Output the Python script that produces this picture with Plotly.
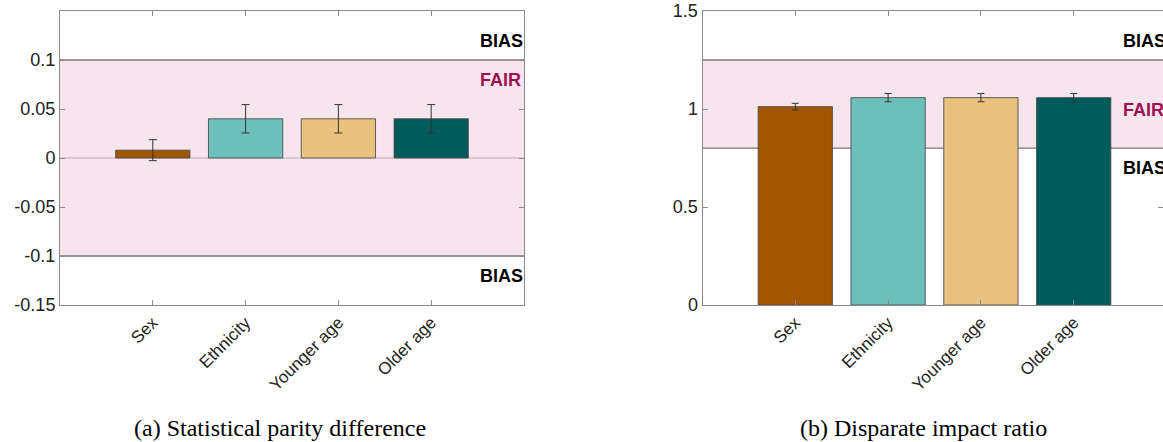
import plotly.graph_objects as go

categories = ["Sex", "Ethnicity", "Younger age", "Older age"]
colors = ["#a35500", "#6cc0bc", "#e8c27e", "#005c5c"]

spd_values = [0.008, 0.040, 0.040, 0.040]
spd_errors = [0.0107, 0.0145, 0.0145, 0.0145]
spd_ticks = [-0.15, -0.1, -0.05, 0, 0.05, 0.1]
spd_ticktext = ["-0.15", "-0.1", "-0.05", "0", "0.05", "0.1"]
spd_fair = [-0.1, 0.1]

dir_values = [1.012, 1.058, 1.058, 1.058]
dir_errors = [0.017, 0.021, 0.021, 0.021]
dir_ticks = [0, 0.5, 1, 1.5]
dir_ticktext = ["0", "0.5", "1", "1.5"]
dir_fair = [0.8, 1.25]

captions = ["(a) Statistical parity difference", "(b) Disparate impact ratio"]

W, H = 1163, 442
fig = go.Figure()

fig.add_trace(go.Bar(
    x=categories, y=spd_values, width=0.8,
    marker=dict(color=colors, line=dict(color="rgba(70,70,70,0.85)", width=1)),
    error_y=dict(type="data", array=spd_errors, color="#333333", thickness=1, width=4),
    xaxis="x", yaxis="y", showlegend=False))

fig.add_trace(go.Bar(
    x=categories, y=dir_values, width=0.8,
    marker=dict(color=colors, line=dict(color="rgba(70,70,70,0.85)", width=1)),
    error_y=dict(type="data", array=dir_errors, color="#333333", thickness=1, width=3.5),
    xaxis="x2", yaxis="y2", showlegend=False))

tickfont = dict(family="Liberation Sans, Arial, sans-serif", size=18, color="#222222")
catfont = dict(family="Liberation Sans, Arial, sans-serif", size=17, color="#222222")
axcol = "#8a8a8a"

def py(y):
    # pixel row -> paper fraction
    return 1 - y / H

d1 = [60 / W, 524 / W]
d2 = [702.5 / W, 1.0]
ydom = [py(305), py(11)]

common_x = dict(type="category", showline=True, linecolor=axcol, linewidth=1, mirror="ticks",
                ticks="inside", ticklen=5, tickcolor=axcol, tickangle=-45, tickfont=catfont,
                showgrid=False, zeroline=False, automargin=False)
common_y = dict(showline=True, linecolor=axcol, linewidth=1, mirror="ticks",
                ticks="inside", ticklen=5, tickcolor=axcol, tickfont=tickfont,
                showgrid=False, zeroline=False, tickmode="array", automargin=False,
                ticklabeloverflow="allow")

fig.update_layout(
    autosize=False,
    width=W, height=H, margin=dict(l=0, r=0, t=0, b=0, pad=0, autoexpand=False),
    paper_bgcolor="white", plot_bgcolor="white",
    xaxis=dict(domain=d1, range=[-1, 4], anchor="y", **common_x),
    yaxis=dict(domain=ydom, range=[-0.15, 0.15], anchor="x", tickvals=spd_ticks,
               ticktext=spd_ticktext, **common_y),
    xaxis2=dict(domain=d2, range=[-1, (1163 - 702.5) / 92.8 - 1], anchor="y2", **common_x),
    yaxis2=dict(domain=ydom, range=[0, 1.5], anchor="x2", tickvals=dir_ticks,
                ticktext=dir_ticktext, **common_y),
    bargap=0.2,
)

band = "#f6e5ec"
for xr, yr, fair in [("x", "y", spd_fair), ("x2", "y2", dir_fair)]:
    fig.add_shape(type="rect", xref=xr + " domain", yref=yr, x0=0, x1=1, y0=fair[0], y1=fair[1],
                  fillcolor=band, line=dict(width=0), layer="below")
    for v in fair:
        fig.add_shape(type="line", xref=xr + " domain", yref=yr, x0=0, x1=1, y0=v, y1=v,
                      line=dict(color="#7a7a7a", width=1.3), layer="below")

fig.add_shape(type="line", xref="x domain", yref="y", x0=0, x1=1, y0=0, y1=0,
              line=dict(color="#bcaab4", width=1.2), layer="below")

lab = dict(family="Liberation Sans, Arial, sans-serif", size=18)
ann = [
    ("x", "y", 3.5, 0.119, "BIAS", "#000000"),
    ("x", "y", 3.5, 0.080, "FAIR", "#9e1050"),
    ("x", "y", 3.5, -0.120, "BIAS", "#000000"),
    ("x2", "y2", 3.508, 1.345, "BIAS", "#000000"),
    ("x2", "y2", 3.508, 0.997, "FAIR", "#9e1050"),
    ("x2", "y2", 3.508, 0.700, "BIAS", "#000000"),
]
for xr, yr, xv, yv, t, c in ann:
    fig.add_annotation(xref=xr, yref=yr, x=xv, y=yv, text="<b>" + t + "</b>", showarrow=False,
                       xanchor="left", yanchor="middle", font=dict(color=c, **lab))

for cx, cap in zip([280 / W, 923 / W], captions):
    fig.add_annotation(xref="paper", yref="paper", x=cx, y=py(428), text=cap, showarrow=False,
                       xanchor="center", yanchor="middle",
                       font=dict(family="Liberation Serif, Times New Roman, serif", size=24, color="#000000"))

fig.write_html("out.html", config={"responsive": False})
